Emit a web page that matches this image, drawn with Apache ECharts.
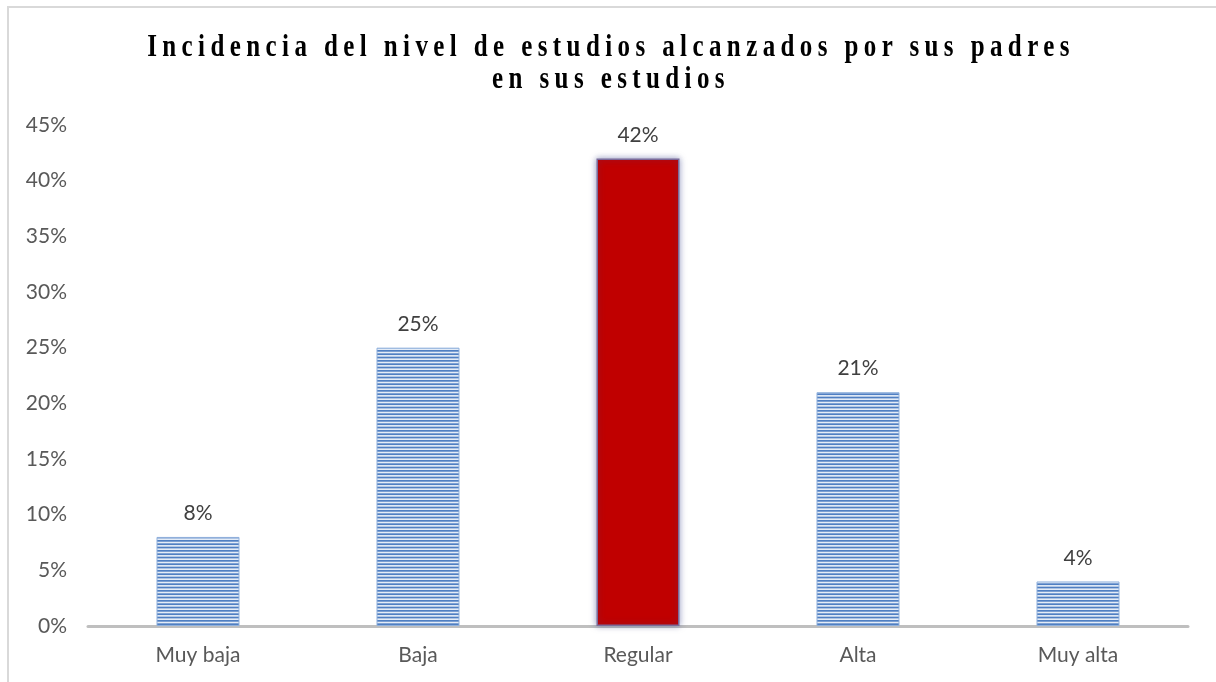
<!DOCTYPE html>
<html>
<head>
<meta charset="utf-8">
<script src="https://cdn.jsdelivr.net/npm/echarts@6/dist/echarts.min.js"></script>
<style>
html,body{margin:0;padding:0;background:#fff;}
#wrap{position:relative;width:1216px;height:682px;overflow:hidden;}
#frame{position:absolute;left:7px;top:6px;width:1240px;height:700px;border:2px solid #d9d9d9;box-sizing:border-box;}
#chart{position:absolute;left:0;top:0;width:1216px;height:682px;}
#title{position:absolute;left:0;top:30px;width:1222px;text-align:center;font-family:'Liberation Serif','DejaVu Serif',serif;font-weight:bold;font-size:25px;letter-spacing:5.4px;line-height:25px;color:#000;transform:scaleY(1.25);transform-origin:50% 0;}
</style>
</head>
<body>
<div id="wrap">
<div id="frame"></div>
<div id="chart"></div>
<div id="title">Incidencia del nivel de estudios alcanzados por sus padres<br>en sus estudios</div>
</div>
<script>
const categories = ['Muy baja', 'Baja', 'Regular', 'Alta', 'Muy alta'];
const values = [8, 25, 42, 21, 4];
const highlightIndex = 2;
const yTicks = { min: 0, max: 45, interval: 5 };

const pc = document.createElement('canvas');
pc.width = 4; pc.height = 10;
const g = pc.getContext('2d');
g.fillStyle = '#e4ecf7'; g.fillRect(0, 0, 4, 10);
g.fillStyle = '#4f7fc2';
[0, 3.33, 6.67].forEach(y => g.fillRect(0, y, 4, 1.7));

const FONT = 'Lato, "Open Sans", sans-serif';
const chart = echarts.init(document.getElementById('chart'), null, { renderer: 'canvas' });
chart.setOption({
  backgroundColor: 'transparent',
  animation: false,
  grid: { left: 88, right: 28, top: 125, bottom: 56 },
  xAxis: {
    type: 'category',
    data: categories,
    axisLine: { lineStyle: { color: '#bfbfbf', width: 3 } },
    axisTick: { show: false },
    axisLabel: { color: '#595959', fontSize: 21, fontFamily: FONT, margin: 19 }
  },
  yAxis: {
    type: 'value',
    min: yTicks.min, max: yTicks.max, interval: yTicks.interval,
    splitLine: { show: false },
    axisLine: { show: false },
    axisTick: { show: false },
    axisLabel: { color: '#595959', fontSize: 21, fontFamily: FONT, margin: 21, formatter: '{value}%' }
  },
  series: [{
    type: 'bar',
    barWidth: 83,
    data: values.map((v, i) => i === highlightIndex
      ? { value: v, itemStyle: { color: '#c00000', borderColor: '#7a6a9a', borderWidth: 1.5, shadowColor: 'rgba(60,70,140,0.5)', shadowBlur: 6 } }
      : { value: v, itemStyle: { color: { image: pc, repeat: 'repeat' }, borderColor: '#8fb0dc', borderWidth: 1 } }),
    label: {
      show: true, position: 'top', distance: 13,
      color: '#404040', fontSize: 21, fontFamily: FONT,
      formatter: '{c}%'
    }
  }]
});
</script>
</body>
</html>
